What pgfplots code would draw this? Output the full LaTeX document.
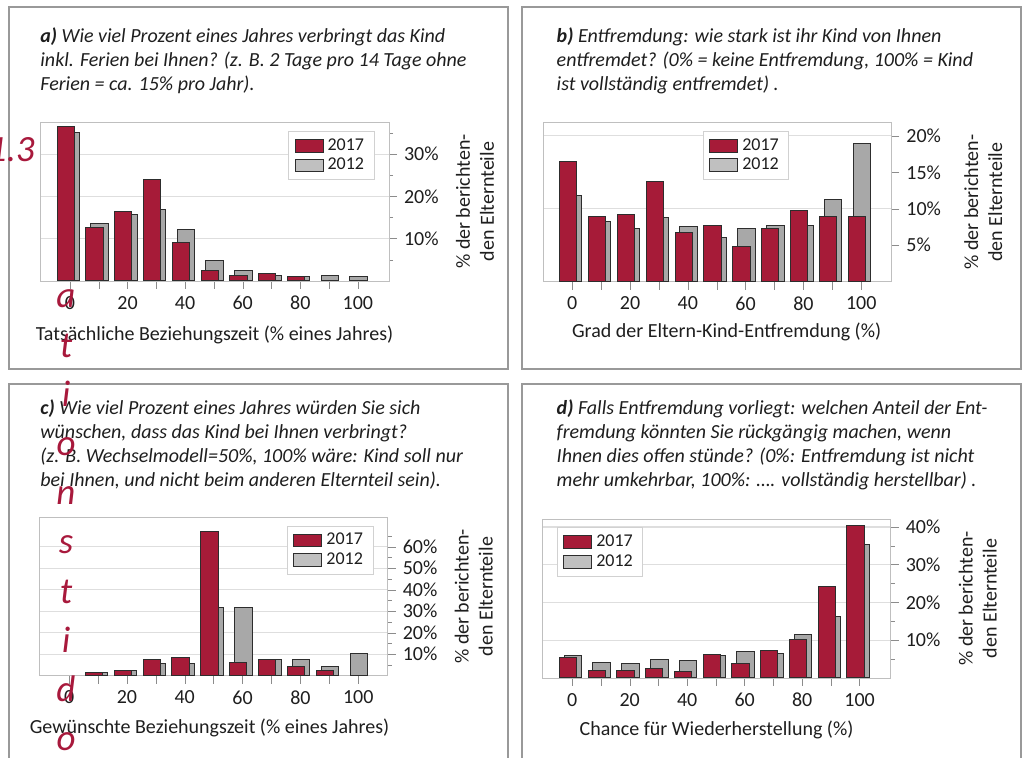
\documentclass[border=0pt]{standalone}
\usepackage{pgfplots}
\pgfplotsset{compat=1.18}
\usepackage{fontspec}
\setmainfont{Carlito}

\definecolor{rbar}{RGB}{166,27,56}
\definecolor{gbar}{RGB}{168,168,168}
\definecolor{gleg}{RGB}{192,192,192}
\definecolor{bord}{RGB}{45,45,45}
\definecolor{txt}{RGB}{30,30,30}
\definecolor{artred}{RGB}{168,25,60}

\pgfplotsset{
  panel/.style={
    scale only axis, anchor=south west,
    ymin=0,
    axis line style={draw=black!25},
    xtick={0,10,...,100},
    xticklabels={0,,20,,40,,60,,80,,100},
    xtick pos=bottom, ytick pos=right, yticklabel pos=right,
    tick align=outside,
    major tick length=4pt, minor tick length=2pt,
    tick style={draw=black!45},
    ymajorgrids, grid style={draw=black!13, line width=0.6pt},
    minor grid style={draw=black!13, line width=0.6pt},
    /pgf/number format/assume math mode=true,
    yticklabel={\pgfmathprintnumber{\tick}\%},
    ticklabel style={font=\fontsize{10}{12}\selectfont, text=txt},
    label style={font=\fontsize{10}{12}\selectfont, text=txt},
    ylabel={\% der berichten-\\den Elternteile},
    reverse legend,
    legend image code/.code={\draw[#1] (0pt,-3.2pt) rectangle (14pt,3.2pt);},
    legend style={anchor=north west, draw=black!18, fill=white,
      font=\fontsize{9}{10}\selectfont, text=txt,
      inner xsep=3pt, inner ysep=1.5pt, row sep=-1.5pt, cells={anchor=west}},
  },
  gser/.style={ybar, bar width=8.8pt, bar shift=0.4pt, fill=gbar, draw=bord, line width=0.5pt,
    legend image post style={fill=gleg}},
  rser/.style={ybar, bar width=8.6pt, bar shift=-2.1pt, fill=rbar, draw=bord, line width=0.5pt},
}

\begin{document}
\begin{tikzpicture}
\useasboundingbox (0,0) rectangle (513pt,379pt);
\tikzset{frame/.style={draw=black!40, line width=0.6pt},
  ttl/.style={anchor=base west, inner sep=0pt, text=txt,
    font=\fontsize{10}{12}\selectfont\itshape}}

% frames
\draw[frame] (4.5pt,375.5pt) rectangle (254pt,194.5pt);
\draw[frame] (261pt,375.5pt) rectangle (510.5pt,194.5pt);
\draw[frame] (4.5pt,-2pt) -- (4.5pt,187pt) -- (254pt,187pt) -- (254pt,-2pt);
\draw[frame] (261pt,-2pt) -- (261pt,187pt) -- (510.5pt,187pt) -- (510.5pt,-2pt);

% titles
\node[ttl] at (20pt,357.65pt) {\textbf{a)} Wie viel Prozent eines Jahres verbringt das Kind};
\node[ttl] at (20pt,345.65pt) {inkl. Ferien bei Ihnen? (z. B. 2 Tage pro 14 Tage ohne};
\node[ttl] at (20pt,333.65pt) {Ferien = ca. 15\% pro Jahr).};

\node[ttl] at (278.15pt,357.65pt) {\textbf{b)} Entfremdung: wie stark ist ihr Kind von Ihnen};
\node[ttl] at (278.15pt,345.65pt) {entfremdet? (0\% = keine Entfremdung, 100\% = Kind};
\node[ttl] at (278.15pt,333.65pt) {ist vollständig entfremdet) .};

\node[ttl] at (20pt,171.5pt) {\textbf{c)} Wie viel Prozent eines Jahres würden Sie sich};
\node[ttl] at (20pt,159.5pt) {wünschen, dass das Kind bei Ihnen verbringt?};
\node[ttl] at (20pt,147.5pt) {(z. B. Wechselmodell=50\%, 100\% wäre: Kind soll nur};
\node[ttl] at (20pt,135.5pt) {bei Ihnen, und nicht beim anderen Elternteil sein).};

\node[ttl] at (278.15pt,171.5pt) {\textbf{d)} Falls Entfremdung vorliegt: welchen Anteil der Ent-};
\node[ttl] at (278.15pt,159.5pt) {fremdung könnten Sie rückgängig machen, wenn};
\node[ttl] at (278.15pt,147.5pt) {Ihnen dies offen stünde? (0\%: Entfremdung ist nicht};
\node[ttl] at (278.15pt,135.5pt) {mehr umkehrbar, 100\%: …. vollständig herstellbar) .};

% a)
\begin{axis}[panel, at={(20pt,238.5pt)}, width=174.5pt, height=79.5pt,
  xmin=-10.4, xmax=110.8, ymax=37.6,
  ytick={10,20,30}, minor ytick={5,15,25,35},
  xlabel={Tatsächliche Beziehungszeit (\% eines Jahres)},
  xlabel style={at={(axis description cs:0.5,0)}, anchor=base, yshift=-30pt},
  ylabel style={at={([xshift=43pt]axis description cs:1,0.5)}, anchor=center, align=center},
  legend style={at={(axis description cs:0.711,0.943)}}]
\addplot[gser] coordinates {(0,35.0) (10,13.7) (20,15.8) (30,17.0) (40,12.2) (50,4.8) (60,2.5) (70,1.35) (80,0.95) (90,1.4) (100,0.95)};
\addlegendentry{2012}
\addplot[rser] coordinates {(0,36.6) (10,12.6) (20,16.5) (30,24.1) (40,9.0) (50,2.5) (60,1.35) (70,1.7) (80,0.95)};
\addlegendentry{2017}
\end{axis}

% b)
\begin{axis}[panel, at={(271.5pt,238.15pt)}, width=174.15pt, height=79.5pt,
  xmin=-10.1, xmax=110.4, ymax=21.8,
  ytick={5,10,15,20}, minor ytick={10,20}, minor tick length=0pt,
  ymajorgrids=false, yminorgrids,
  xlabel={Grad der Eltern-Kind-Entfremdung (\%)},
  xlabel style={at={([xshift=4.75pt]axis description cs:0.5,0)}, anchor=base, yshift=-28pt},
  ylabel style={at={([xshift=46pt]axis description cs:1,0.5)}, anchor=center, align=center},
  legend style={at={(axis description cs:0.459,0.948)}}]
\addplot[gser] coordinates {(0,11.8) (10,8.3) (20,7.3) (30,8.8) (40,7.5) (50,6.1) (60,7.3) (70,7.7) (80,7.7) (90,11.3) (100,19.0)};
\addlegendentry{2012}
\addplot[rser] coordinates {(0,16.5) (10,9.0) (20,9.2) (30,13.7) (40,6.75) (50,7.7) (60,4.8) (70,7.3) (80,9.8) (90,9.0) (100,9.0)};
\addlegendentry{2017}
\end{axis}

% c)
\begin{axis}[panel, at={(19.65pt,41.15pt)}, width=174.2pt, height=79.2pt,
  xmin=-10.3, xmax=110.2, ymax=73.7,
  ytick={10,20,...,60}, minor ytick={5,15,...,65},
  xlabel={Gewünschte Beziehungszeit (\% eines Jahres)},
  xlabel style={at={([xshift=-2pt]axis description cs:0.5,0)}, anchor=base, yshift=-29pt},
  ylabel style={at={([xshift=43pt]axis description cs:1,0.5)}, anchor=center, align=center},
  legend style={at={(axis description cs:0.711,0.947)}}]
\addplot[gser] coordinates {(10,1.55) (20,2.2) (30,5.7) (40,5.7) (50,31.8) (60,31.6) (70,7.75) (80,7.75) (90,4.3) (100,10.5)};
\addlegendentry{2012}
\addplot[rser] coordinates {(10,1.55) (20,2.2) (30,7.75) (40,8.4) (50,67.0) (60,6.2) (70,7.75) (80,4.3) (90,2.6)};
\addlegendentry{2017}
\end{axis}

% d)
\begin{axis}[panel, at={(271.15pt,40pt)}, width=174.2pt, height=79.5pt,
  xmin=-10.4, xmax=110.8, ymax=42.1,
  ytick={10,20,30,40}, minor ytick={5,15,25,35},
  xlabel={Chance für Wiederherstellung (\%)},
  xlabel style={at={(axis description cs:0.5,0)}, anchor=base, yshift=-29pt},
  ylabel style={at={([xshift=43.5pt]axis description cs:1,0.5)}, anchor=center, align=center},
  legend style={at={(axis description cs:0.042,0.948)}}]
\addplot[gser] coordinates {(0,5.9) (10,4.1) (20,3.9) (30,5.0) (40,4.6) (50,5.9) (60,7.0) (70,6.6) (80,11.5) (90,16.3) (100,35.4)};
\addlegendentry{2012}
\addplot[rser] coordinates {(0,5.5) (10,2.1) (20,2.1) (30,2.6) (40,1.8) (50,6.2) (60,3.9) (70,7.4) (80,10.3) (90,24.3) (100,40.3)};
\addlegendentry{2017}
\end{axis}

% stray overlay text
\tikzset{art/.style={anchor=base, inner sep=0pt, text=artred, font=\fontsize{18.5}{20}\selectfont\itshape}}
\node[art, anchor=base east] at (17.5pt,298.15pt) {1.3};
\node[art] at (33pt,225pt) {a};
\node[art] at (33pt,200.4pt) {t};
\node[art] at (33pt,175.8pt) {i};
\node[art] at (33pt,151.2pt) {o};
\node[art] at (33pt,126.6pt) {n};
\node[art] at (33pt,102pt) {s};
\node[art] at (33pt,77.4pt) {t};
\node[art] at (33pt,52.8pt) {i};
\node[art] at (33pt,28.2pt) {d};
\node[art] at (33pt,3.6pt) {o};
\end{tikzpicture}
\end{document}
